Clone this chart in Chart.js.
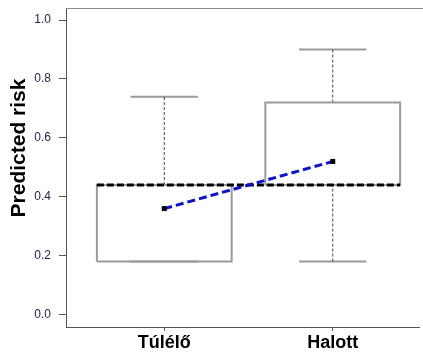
<!DOCTYPE html>
<html>
<head>
<meta charset="utf-8">
<script src="https://cdn.jsdelivr.net/npm/chart.js@4/dist/chart.umd.min.js"></script>
<style>
  html, body { margin: 0; padding: 0; background: #fff; }
  #wrap { width: 423px; height: 355px; }
</style>
</head>
<body>
<div id="wrap"><canvas id="c" width="423" height="355"></canvas></div>
<script>
// Groups and their box-plot summaries (predicted risk)
const categories   = ['Túlélő', 'Halott'];
const whiskerLow   = [0.18, 0.18];
const q1           = [0.18, 0.44];
const median       = [0.44, 0.44];
const q3           = [0.44, 0.72];
const whiskerHigh  = [0.74, 0.90];
const means        = [0.36, 0.52];
const yTickValues  = [0, 0.2, 0.4, 0.6, 0.8, 1.0];

const BOX_HALF = 0.4;   // half box width in category units
const CAP_HALF = 0.2;   // half whisker-cap width

const boxGray = '#9a9a9a';
const datasets = [];

categories.forEach((name, i) => {
  const x = i + 1;
  // box outline
  datasets.push({
    data: [
      { x: x - BOX_HALF, y: q1[i] }, { x: x + BOX_HALF, y: q1[i] },
      { x: x + BOX_HALF, y: q3[i] }, { x: x - BOX_HALF, y: q3[i] },
      { x: x - BOX_HALF, y: q1[i] }
    ],
    borderColor: boxGray, borderWidth: 2, pointRadius: 0, showLine: true, order: 5
  });
  // upper and lower whiskers (dashed)
  datasets.push({
    data: [{ x: x, y: q3[i] }, { x: x, y: whiskerHigh[i] }],
    borderColor: '#444', borderWidth: 1, borderDash: [3, 2], pointRadius: 0, showLine: true, order: 5
  });
  datasets.push({
    data: [{ x: x, y: whiskerLow[i] }, { x: x, y: q1[i] }],
    borderColor: '#444', borderWidth: 1, borderDash: [3, 2], pointRadius: 0, showLine: true, order: 5
  });
  // whisker caps
  datasets.push({
    data: [{ x: x - CAP_HALF, y: whiskerHigh[i] }, { x: x + CAP_HALF, y: whiskerHigh[i] }],
    borderColor: boxGray, borderWidth: 2, pointRadius: 0, showLine: true, order: 5
  });
  datasets.push({
    data: [{ x: x - CAP_HALF, y: whiskerLow[i] }, { x: x + CAP_HALF, y: whiskerLow[i] }],
    borderColor: boxGray, borderWidth: 2, pointRadius: 0, showLine: true, order: 5
  });
});

// medians joined across both boxes (thick black dashes)
datasets.push({
  data: [
    { x: 1 - BOX_HALF, y: median[0] },
    { x: 2 + BOX_HALF, y: median[1] }
  ],
  borderColor: '#000', borderWidth: 3, borderDash: [7, 3], pointRadius: 0, showLine: true, order: 2
});

// group means joined by a blue dashed line, with square markers
datasets.push({
  data: means.map((m, i) => ({ x: i + 1, y: m })),
  borderColor: '#0a14c8', borderWidth: 3, borderDash: [8, 4],
  pointStyle: 'rect', pointRadius: 3.5, pointBackgroundColor: '#000', pointBorderColor: '#000',
  pointBorderWidth: 0, showLine: true, order: 1
});

// frame line along the top of the plotting region, plus the rotated axis title
const framePlugin = {
  id: 'frame',
  beforeDatasetsDraw(chart) {
    const { ctx, chartArea } = chart;
    ctx.save();
    ctx.strokeStyle = '#8a8a8a';
    ctx.lineWidth = 1;
    ctx.beginPath();
    ctx.moveTo(chartArea.left, chartArea.top + 0.5);
    ctx.lineTo(chart.width, chartArea.top + 0.5);
    ctx.stroke();
    ctx.restore();
  },
  afterDraw(chart) {
    const { ctx } = chart;
    ctx.save();
    ctx.translate(19, 148);
    ctx.rotate(-Math.PI / 2);
    ctx.font = 'bold 21px "Liberation Sans", Arial, sans-serif';
    ctx.fillStyle = '#000';
    ctx.textAlign = 'center';
    ctx.textBaseline = 'middle';
    ctx.fillText('Predicted risk', 0, 0);
    ctx.restore();
  }
};

new Chart(document.getElementById('c'), {
  type: 'scatter',
  data: { datasets },
  options: {
    responsive: false,
    animation: false,
    layout: { padding: { left: 0, top: 8, right: 0, bottom: 0 } },
    plugins: { legend: { display: false }, tooltip: { enabled: false } },
    scales: {
      x: {
        type: 'linear',
        min: 0.4167, max: 2.512,
        afterBuildTicks: (s) => { s.ticks = categories.map((_, i) => ({ value: i + 1 })); },
        afterFit: (s) => { s.height = 28; s.paddingLeft = 0; s.paddingRight = 0; },
        ticks: {
          callback: (v) => categories[v - 1] || '',
          font: { family: '"Liberation Sans", Arial, sans-serif', size: 18, weight: 'bold' },
          color: '#000', padding: 1, maxRotation: 0, autoSkip: false
        },
        grid: { drawOnChartArea: false, tickLength: 4, color: '#666' },
        border: { color: '#555', width: 1 }
      },
      y: {
        type: 'linear',
        min: -0.042, max: 1.041,
        afterBuildTicks: (s) => { s.ticks = yTickValues.map(v => ({ value: v })); },
        afterFit: (s) => { s.width = 66; s.paddingTop = 0; s.paddingBottom = 0; },
        ticks: {
          callback: (v) => v.toFixed(1),
          font: { family: '"Liberation Sans", Arial, sans-serif', size: 12 },
          color: '#23234a', padding: 8
        },
        grid: { drawOnChartArea: false, tickLength: 7, color: '#555' },
        border: { color: '#555', width: 1 }
      }
    }
  },
  plugins: [framePlugin]
});
</script>
</body>
</html>
